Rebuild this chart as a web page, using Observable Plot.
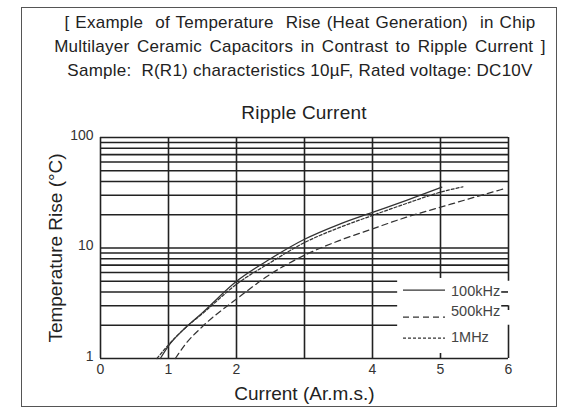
<!DOCTYPE html>
<html>
<head>
<meta charset="utf-8">
<script src="https://cdn.jsdelivr.net/npm/d3@7"></script>
<script src="https://cdn.jsdelivr.net/npm/@observablehq/plot@0.6"></script>
<style>
  body { margin: 0; background: #fff; font-family: "Liberation Sans", Arial, sans-serif; }
  #wrap { position: relative; width: 564px; height: 411px; overflow: hidden; background: #fff; }
  #header { position: relative; height: 124px; }
  .t { position: absolute; left: 0; width: 600px; text-align: center; color: #222; white-space: pre; line-height: 20px; font-size: 17px; letter-spacing: 0.25px; }
  #box { position: absolute; left: 21px; top: 7px; width: 536px; height: 400px; border: 1.5px solid #555; box-sizing: border-box; pointer-events: none; }
  #legend { position: absolute; left: 0; top: 0; pointer-events: none; }
  #chart svg { display: block; }
</style>
</head>
<body>
<div id="wrap">
  <div id="header"></div>
  <div id="chart"></div>
  <div id="box"></div>
</div>
<script>
// ---- data ----
const titleLines = [
  "[ Example  of Temperature  Rise (Heat Generation)  in Chip",
  "Multilayer Ceramic Capacitors in Contrast to Ripple Current ]",
  "Sample:  R(R1) characteristics 10\u00b5F, Rated voltage: DC10V"
];
const titleWordSpacing = ["1px", "2.5px", "0px"];
const chartTitle = "Ripple Current";
const xLabel = "Current (Ar.m.s.)";
const yLabel = "Temperature Rise (\u00b0C)";

const xTickValues = [0, 1, 2, 4, 5, 6];
const yTickValues = [1, 10, 100];
const gridYFull = [6, 7, 8, 9, 10, 20, 30, 40, 50, 60, 70, 80, 90];
const gridYShort = [2, 3, 4, 5];
const gridXFull = [1, 2, 3, 4];
const legendEdgeX = 4.37;

const series = ["100kHz", "500kHz", "1MHz"];
const seriesDash = ["none", "6,4", "3,2"];

const current100k = [0.88, 1.0, 1.25, 1.5, 2.0, 2.5, 3.0, 3.5, 4.0, 4.5, 5.02];
const temp100k    = [1.0, 1.3, 1.9, 2.6, 5.0, 8.0, 12.0, 16.3, 21.0, 27.0, 35.5];

const current500k = [1.1, 1.25, 1.5, 2.0, 2.5, 3.0, 3.5, 4.0, 4.5, 5.0, 5.5, 5.93];
const temp500k    = [1.0, 1.35, 1.95, 3.45, 5.8, 8.6, 11.6, 14.9, 19.0, 23.4, 28.8, 34.3];

const current1M = [0.83, 1.0, 1.25, 1.5, 2.0, 2.5, 3.0, 3.5, 4.0, 4.5, 5.0, 5.33];
const temp1M    = [1.0, 1.33, 1.9, 2.55, 4.7, 7.4, 11.2, 15.2, 19.7, 25.3, 32.0, 35.8];

// ---- build tables ----
const rows = (xs, ys, s) => xs.map((x, i) => ({current: x, temp: ys[i], freq: s}));
const data = [
  rows(current100k, temp100k, series[0]),
  rows(current500k, temp500k, series[1]),
  rows(current1M, temp1M, series[2])
];

// ---- header ----
const header = document.getElementById("header");
const lineCenters = [23, 47, 71];
titleLines.forEach((txt, i) => {
  const d = document.createElement("div");
  d.className = "t";
  d.textContent = txt;
  d.style.wordSpacing = titleWordSpacing[i];
  d.style.top = (lineCenters[i] - 10) + "px";
  header.appendChild(d);
});
const ct = document.createElement("div");
ct.className = "t";
ct.textContent = chartTitle;
ct.style.fontSize = "19px";
ct.style.letterSpacing = "0.2px";
ct.style.left = "4px";
ct.style.top = (113 - 10) + "px";
header.appendChild(ct);

// ---- chart ----
const ink = "#222";
const gw = 1.6;
const curveInk = "#333";

const plot = Plot.plot({
  width: 564,
  height: 287,
  marginLeft: 100,
  marginRight: 56,
  marginTop: 13,
  marginBottom: 53,
  style: {fontFamily: '"Liberation Sans", Arial, sans-serif', fontSize: "14px", color: "#333", background: "transparent", overflow: "visible"},
  x: {domain: [0, 6]},
  y: {type: "log", domain: [1, 100]},
  marks: [
    // grid
    Plot.ruleY(gridYFull, {stroke: ink, strokeWidth: gw}),
    Plot.ruleY(gridYShort, {x1: 0, x2: legendEdgeX, stroke: ink, strokeWidth: gw}),
    Plot.ruleX(gridXFull, {stroke: ink, strokeWidth: gw}),
    Plot.ruleX([5], {y1: 5.3, y2: 100, stroke: ink, strokeWidth: gw}),
    Plot.ruleX([5], {y1: 1, y2: 1.11, stroke: ink, strokeWidth: gw}),
    // frame
    Plot.ruleY([1, 100], {stroke: ink, strokeWidth: gw}),
    Plot.ruleX([0], {stroke: ink, strokeWidth: gw}),
    Plot.ruleX([6], {y1: 5, y2: 100, stroke: ink, strokeWidth: gw}),
    Plot.ruleX([6], {y1: 1, y2: 2, stroke: ink, strokeWidth: gw}),
    Plot.ruleX([6], {y1: 2.72, y2: 3, stroke: ink, strokeWidth: gw}),
    Plot.ruleY([3, 4], {x1: 5.9, x2: 6, stroke: ink, strokeWidth: gw}),
    // curves
    ...data.map((d, i) => Plot.line(d, {
      x: "current", y: "temp", curve: "monotone-x",
      stroke: curveInk, strokeWidth: 1.25,
      strokeDasharray: seriesDash[i] === "none" ? undefined : seriesDash[i]
    })),
    // axes
    Plot.axisX({ticks: xTickValues, tickSize: 0, tickPadding: 6, label: null, tickFormat: d => String(d), fill: "#333"}),
    Plot.axisY({ticks: yTickValues, tickSize: 0, tickPadding: 7, label: null, tickFormat: d => String(d), dy: -2, fill: "#333"}),
    Plot.text([xLabel], {text: d => d, frameAnchor: "bottom", dy: 35, lineAnchor: "middle", textAnchor: "middle", fontSize: 19, fill: ink}),
    Plot.text([yLabel], {text: d => d, frameAnchor: "left", dx: -45, rotate: -90, lineAnchor: "middle", textAnchor: "middle", fontSize: 19, fill: ink})
  ]
});
document.getElementById("chart").appendChild(plot);

// ---- legend (inside plot area, lower right) ----
const legendLineY = [290, 317, 338];
const legendTextY = [291, 311, 337];
const lg = d3.select("#wrap").append("svg")
  .attr("id", "legend").attr("width", 564).attr("height", 411)
  .style("position", "absolute").style("left", 0).style("top", 0);
series.forEach((s, i) => {
  const l = lg.append("line")
    .attr("x1", 403).attr("x2", 445)
    .attr("y1", legendLineY[i]).attr("y2", legendLineY[i])
    .attr("stroke", curveInk).attr("stroke-width", 1.25);
  if (seriesDash[i] !== "none") l.attr("stroke-dasharray", seriesDash[i]);
  lg.append("text")
    .attr("x", 451).attr("y", legendTextY[i]).attr("dy", "0.35em")
    .attr("font-family", '"Liberation Sans", Arial, sans-serif')
    .attr("font-size", 14.5).attr("fill", "#444")
    .text(s);
});
</script>
</body>
</html>
